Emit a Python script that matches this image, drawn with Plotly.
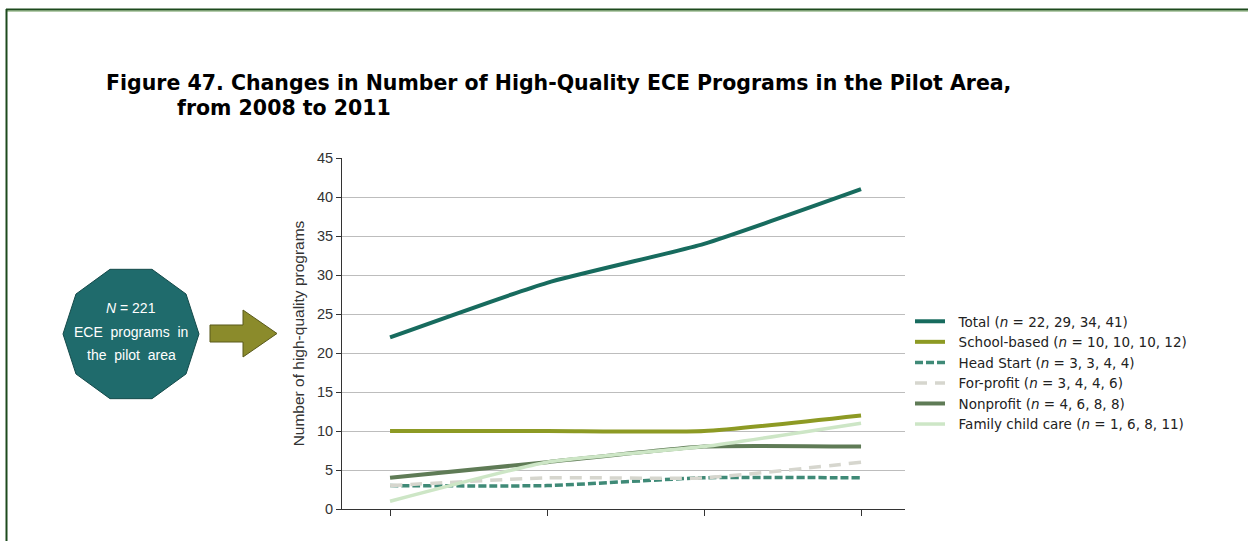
import math
import plotly.graph_objects as go

# ---- data ----
years = ["2008", "2009", "2010", "2011"]
x_pos = [0, 1, 2, 3]
series_names = ["Total", "School-based", "Head Start", "For-profit", "Nonprofit", "Family child care"]
total = [22, 29, 34, 41]
school_based = [10, 10, 10, 12]
head_start = [3, 3, 4, 4]
for_profit = [3, 4, 4, 6]
nonprofit = [4, 6, 8, 8]
family_child_care = [1, 6, 8, 11]
y_ticks = [0, 5, 10, 15, 20, 25, 30, 35, 40, 45]

W, H = 1248, 541
L, R, T, B = 342, 905, 158, 509

def px(x):
    return (x - L) / (R - L)

def py(y):
    return (B - y) / (B - T)

FONT = "Liberation Sans, Arial, sans-serif"
WIDE = "DejaVu Sans, Liberation Sans, sans-serif"

styles = [
    dict(color="#176b5e", width=4, dash="solid"),
    dict(color="#8d9a24", width=4, dash="solid"),
    dict(color="#3f8a77", width=3.5, dash="8px,3px"),
    dict(color="#d6d6ce", width=3.5, dash="12px,8px"),
    dict(color="#5f7b56", width=4, dash="solid"),
    dict(color="#cde6c6", width=3.5, dash="solid"),
]
values = [total, school_based, head_start, for_profit, nonprofit, family_child_care]

fig = go.Figure()
for name, vals, st in zip(series_names, values, styles):
    label = f"&nbsp;&nbsp;{name} (<i>n</i> = {', '.join(str(v) for v in vals)})"
    fig.add_trace(go.Scatter(
        x=x_pos, y=vals, mode="lines", name=label,
        line=dict(color=st["color"], width=st["width"], dash=st["dash"],
                  shape="spline", smoothing=0.5),
        hoverinfo="skip",
    ))

shapes = []
# page frame (top + left)
shapes.append(dict(type="line", xref="paper", yref="paper",
                   x0=px(6), x1=px(1248), y0=py(9.5), y1=py(9.5),
                   line=dict(color="#1d4a1d", width=2)))
shapes.append(dict(type="line", xref="paper", yref="paper",
                   x0=px(7), x1=px(1248), y0=py(11), y1=py(11),
                   line=dict(color="#6a9a5a", width=1)))
shapes.append(dict(type="line", xref="paper", yref="paper",
                   x0=px(6.5), x1=px(6.5), y0=py(9), y1=py(541),
                   line=dict(color="#1d4a1d", width=2)))

# decagon
cx, cy, rad = 131, 334, 68
pts = []
for k in range(10):
    a = math.radians(180 + 36 * k)
    pts.append((cx + rad * math.cos(a), cy - rad * math.sin(a)))
path = "M " + " L ".join(f"{px(x):.5f},{py(y):.5f}" for x, y in pts) + " Z"
shapes.append(dict(type="path", xref="paper", yref="paper", path=path,
                   fillcolor="#1f6b6c", line=dict(color="#144a4a", width=1)))

# arrow
arrow_px = [(210, 325), (243, 325), (243, 310), (277, 333.5), (243, 357), (243, 342), (210, 342)]
apath = "M " + " L ".join(f"{px(x):.5f},{py(y):.5f}" for x, y in arrow_px) + " Z"
shapes.append(dict(type="path", xref="paper", yref="paper", path=apath,
                   fillcolor="#8b8b2b", line=dict(color="#5a5a1c", width=1)))

annotations = [
    dict(text="<b>Figure 47. Changes in Number of High-Quality ECE Programs in the Pilot Area,</b>",
         x=px(105), y=py(83), xref="paper", yref="paper", xanchor="left", yanchor="middle",
         showarrow=False, borderpad=0, font=dict(family=WIDE, size=20.5, color="#000000")),
    dict(text="<b>from 2008 to 2011</b>",
         x=px(176), y=py(108), xref="paper", yref="paper", xanchor="left", yanchor="middle",
         showarrow=False, borderpad=0, font=dict(family=WIDE, size=20.5, color="#000000")),
]
for txt, yy in [("<i>N</i> = 221", 308), ("ECE  programs  in", 332), ("the  pilot  area", 355)]:
    annotations.append(dict(text=txt, x=px(cx), y=py(yy), xref="paper", yref="paper",
                            xanchor="center", yanchor="middle", showarrow=False, borderpad=0,
                            font=dict(family=FONT, size=14, color="#ffffff")))

fig.update_layout(
    width=W, height=H,
    margin=dict(l=L, r=W - R, t=T, b=H - B),
    paper_bgcolor="white", plot_bgcolor="white",
    font=dict(family=FONT, color="#333333"),
    shapes=shapes, annotations=annotations,
    showlegend=True,
    legend=dict(x=px(910), y=py(306), xanchor="left", yanchor="top",
                font=dict(family=WIDE, size=13.5, color="#222222"),
                itemwidth=30, tracegroupgap=0, bgcolor="rgba(0,0,0,0)"),
    xaxis=dict(range=[-0.306, 3.28], tickvals=x_pos, ticktext=years, showticklabels=False,
               showgrid=False, zeroline=False, showline=True, linecolor="#333333", linewidth=1,
               ticks="outside", ticklen=6, tickcolor="#333333", fixedrange=True),
    yaxis=dict(range=[0, 45], tickvals=y_ticks, showgrid=True, gridcolor="#bdbdbd", gridwidth=1,
               zeroline=False, showline=True, linecolor="#333333", linewidth=1,
               ticks="outside", ticklen=5, tickcolor="#333333",
               tickfont=dict(family=FONT, size=14.5, color="#333333"),
               title=dict(text="Number of high-quality programs", standoff=8,
                          font=dict(family=FONT, size=15.5, color="#333333")),
               fixedrange=True),
)

fig.write_html("out.html", config={"displayModeBar": False},
               post_script="document.body.style.margin='0px';")
